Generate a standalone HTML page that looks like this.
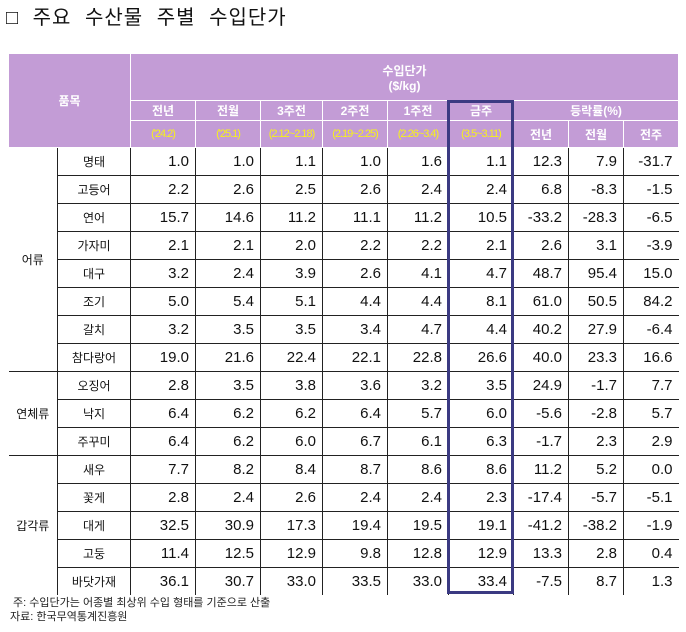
<!DOCTYPE html>
<html><head><meta charset="utf-8"><style>
body{margin:0;width:686px;height:632px;background:#fff;font-family:"Liberation Sans","Noto Sans CJK KR",sans-serif;position:relative;overflow:hidden}
#title{position:absolute;left:6px;top:1px;font-size:20px;color:#111;word-spacing:7px;letter-spacing:1px}
table{position:absolute;left:8px;top:53px;border-collapse:collapse;table-layout:fixed}
th{background:#c39cd6;color:#fff;font-size:12px;font-weight:bold;border:1px solid #fff;padding:0;text-align:center}
th.d{color:#f7f21a;font-size:11px;letter-spacing:-1px;font-weight:normal}
td{height:27px;padding:0 6px 0 0;text-align:right;font-size:15px;color:#111;border-top:1px solid #222;border-left:1px solid #222;}
td.n{text-align:center;font-size:12px;padding:0}
td.g{text-align:center;font-size:12px;padding:0;border-left:none}
#box{position:absolute;left:447px;top:100px;width:61px;height:488px;border:3px solid #3b3a82}
#note{position:absolute;left:10px;top:596px;font-size:11px;color:#222;line-height:14px}
</style></head><body>
<div id="title">□ 주요 수산물 주별 수입단가</div>
<table>
<colgroup><col style="width:49px"><col style="width:73px"><col style="width:65px"><col style="width:65px"><col style="width:62px"><col style="width:65px"><col style="width:61px"><col style="width:65px"><col style="width:55px"><col style="width:55px"><col style="width:55px"></colgroup>
<tr style="height:47px"><th colspan="2" rowspan="3">품목</th><th colspan="9">수입단가<br>($/kg)</th></tr>
<tr style="height:20px"><th>전년</th><th>전월</th><th>3주전</th><th>2주전</th><th>1주전</th><th>금주</th><th colspan="3">등락률(%)</th></tr>
<tr style="height:27px"><th class="d">('24.2)</th><th class="d">('25.1)</th><th class="d">(2.12~2.18)</th><th class="d">(2.19~2.25)</th><th class="d">(2.26~3.4)</th><th class="d">(3.5~3.11)</th><th>전년</th><th>전월</th><th>전주</th></tr>
<tbody id="tb"></tbody>
</table>
<div id="box"></div>
<div id="note">&nbsp;주: 수입단가는 어종별 최상위 수입 형태를 기준으로 산출<br>자료: 한국무역통계진흥원</div>
<script>
const groups=[["어류",8],["연체류",3],["갑각류",5]];
const items=["명태","고등어","연어","가자미","대구","조기","갈치","참다랑어","오징어","낙지","주꾸미","새우","꽃게","대게","고둥","바닷가재"];
const values=[
["1.0","1.0","1.1","1.0","1.6","1.1","12.3","7.9","-31.7"],
["2.2","2.6","2.5","2.6","2.4","2.4","6.8","-8.3","-1.5"],
["15.7","14.6","11.2","11.1","11.2","10.5","-33.2","-28.3","-6.5"],
["2.1","2.1","2.0","2.2","2.2","2.1","2.6","3.1","-3.9"],
["3.2","2.4","3.9","2.6","4.1","4.7","48.7","95.4","15.0"],
["5.0","5.4","5.1","4.4","4.4","8.1","61.0","50.5","84.2"],
["3.2","3.5","3.5","3.4","4.7","4.4","40.2","27.9","-6.4"],
["19.0","21.6","22.4","22.1","22.8","26.6","40.0","23.3","16.6"],
["2.8","3.5","3.8","3.6","3.2","3.5","24.9","-1.7","7.7"],
["6.4","6.2","6.2","6.4","5.7","6.0","-5.6","-2.8","5.7"],
["6.4","6.2","6.0","6.7","6.1","6.3","-1.7","2.3","2.9"],
["7.7","8.2","8.4","8.7","8.6","8.6","11.2","5.2","0.0"],
["2.8","2.4","2.6","2.4","2.4","2.3","-17.4","-5.7","-5.1"],
["32.5","30.9","17.3","19.4","19.5","19.1","-41.2","-38.2","-1.9"],
["11.4","12.5","12.9","9.8","12.8","12.9","13.3","2.8","0.4"],
["36.1","30.7","33.0","33.5","33.0","33.4","-7.5","8.7","1.3"]];
const tb=document.getElementById('tb');
let i=0;
groups.forEach(([g,n],gi)=>{
 for(let k=0;k<n;k++){
  const tr=document.createElement('tr');
  
  
  if(k===0){
   const gc=document.createElement('td');gc.className='g';gc.rowSpan=n;gc.textContent=g;
   
   
   if(gi===0)gc.style.borderTop='none';
   tr.appendChild(gc);
  }
  const nc=document.createElement('td');nc.className='n';nc.textContent=items[i];
  
  
  if(i===0)nc.style.borderTop='none';
  tr.appendChild(nc);
  values[i].forEach(v=>{const c=document.createElement('td');c.textContent=v;
   
   
   if(i===0)c.style.borderTop='none';
   tr.appendChild(c);});
  tb.appendChild(tr);i++;
 }
});
</script>
</body></html>
